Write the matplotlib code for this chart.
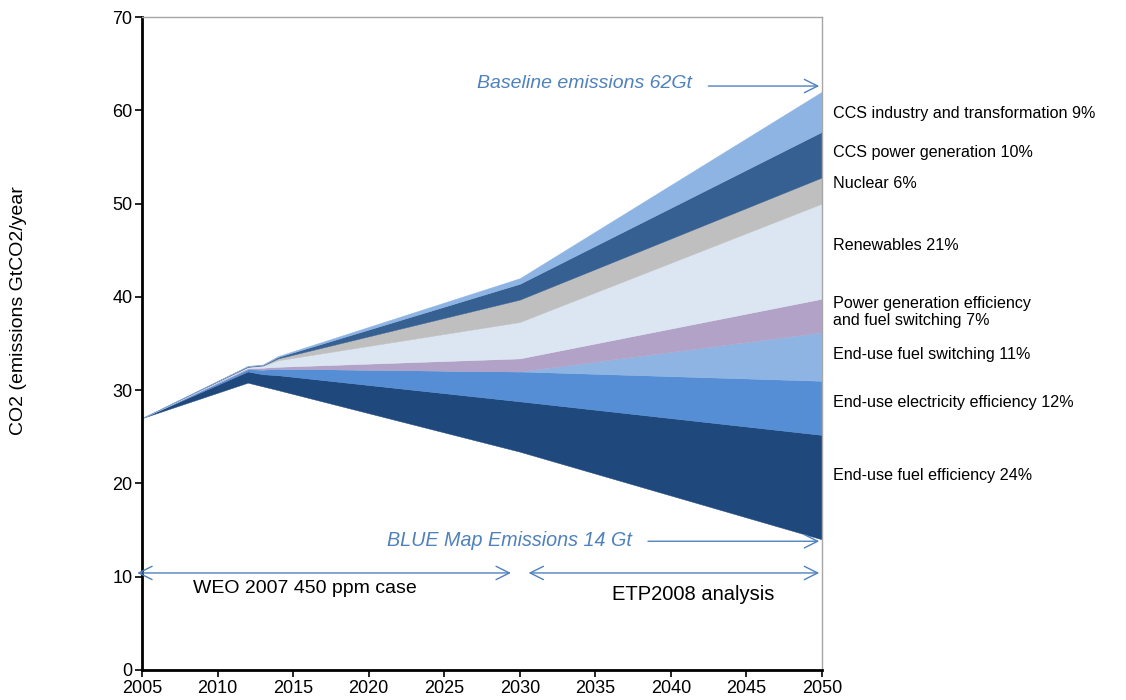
import numpy as np
import matplotlib.pyplot as plt

plt.rcParams['font.family'] = ['Liberation Sans', 'DejaVu Sans']

# years where the wedges change slope
years = [2005, 2012, 2013, 2014, 2030, 2050]

# BLUE Map emissions (bottom of the stack), GtCO2/yr
blue_map = [27.0, 30.8, 30.4, 30.0, 23.4, 14.0]

# emission reduction wedges, bottom to top
wedge_names = [
    'End-use fuel efficiency 24%',
    'End-use electricity efficiency 12%',
    'End-use fuel switching 11%',
    'Power generation efficiency\nand fuel switching 7%',
    'Renewables 21%',
    'Nuclear 6%',
    'CCS power generation 10%',
    'CCS industry and transformation 9%',
]
fuel_eff = [0, 1.2, 1.3, 1.6, 5.4, 11.2]
elec_eff = [0, 0.25, 0.5, 0.7, 3.2, 5.8]
fuel_switch = [0, 0, 0, 0, 0, 5.2]
power_eff = [0, 0.1, 0.2, 0.2, 1.4, 3.6]
renewables = [0, 0.1, 0.2, 0.7, 3.9, 10.2]
nuclear = [0, 0.05, 0.05, 0.2, 2.4, 2.8]
ccs_power = [0, 0.05, 0.05, 0.15, 1.7, 4.9]
ccs_industry = [0, 0.05, 0.05, 0.1, 0.6, 4.3]

wedges = [fuel_eff, elec_eff, fuel_switch, power_eff,
          renewables, nuclear, ccs_power, ccs_industry]
colors = ['#1F497D', '#558ED5', '#8EB4E3', '#B3A2C7',
          '#DCE6F2', '#BFBFBF', '#376092', '#8EB4E3']
# label heights at the right of the chart
label_y = [20.8, 28.7, 33.8, 38.4, 45.5, 52.1, 55.5, 59.7]

arrow_col = '#4F81BD'

fig = plt.figure(figsize=(11.26, 7.0), dpi=100)
ax = fig.add_axes([0.1261, 0.0429, 0.6039, 0.9328])

x = np.array(years)
lower = np.array(blue_map, dtype=float)
for vals, col in zip(wedges, colors):
    upper = lower + np.array(vals)
    ax.fill_between(x, lower, upper, facecolor=col, edgecolor=col, linewidth=0.3)
    lower = upper

ax.set_xlim(2005, 2050)
ax.set_ylim(0, 70)
ax.set_xticks(range(2005, 2051, 5))
ax.set_yticks(range(0, 71, 10))
ax.tick_params(axis='both', direction='out', length=5, width=1.2, labelsize=13,
               colors='black', pad=2)
for s in ['left', 'bottom']:
    ax.spines[s].set_linewidth(2)
    ax.spines[s].set_color('black')
for s in ['top', 'right']:
    ax.spines[s].set_linewidth(1)
    ax.spines[s].set_color('#A6A6A6')

# wedge labels on the right
for name, yv in zip(wedge_names, label_y):
    ax.text(2050.73, yv, name, fontsize=11.6, va='center', ha='left', clip_on=False)

# baseline and BLUE Map annotations
ax.text(2041.4, 62.9, 'Baseline emissions 62Gt', fontsize=14, style='italic',
        color=arrow_col, ha='right', va='center')
ax.annotate('', xy=(2050, 62.6), xytext=(2042.3, 62.6),
            arrowprops=dict(arrowstyle='->', color=arrow_col, lw=1,
                            mutation_scale=24))
ax.text(2037.4, 13.9, 'BLUE Map Emissions 14 Gt', fontsize=14.2, style='italic',
        color=arrow_col, ha='right', va='center')
ax.annotate('', xy=(2050, 13.8), xytext=(2038.3, 13.8),
            arrowprops=dict(arrowstyle='->', color=arrow_col, lw=1,
                            mutation_scale=24))

# period arrows
ax.annotate('', xy=(2004.5, 10.4), xytext=(2029.6, 10.4),
            arrowprops=dict(arrowstyle='<->', color=arrow_col, lw=1,
                            mutation_scale=24), annotation_clip=False)
ax.annotate('', xy=(2030.4, 10.4), xytext=(2050, 10.4),
            arrowprops=dict(arrowstyle='<->', color=arrow_col, lw=1,
                            mutation_scale=24), annotation_clip=False)
ax.text(2015.8, 8.7, 'WEO 2007 450 ppm case', fontsize=14, ha='center', va='center')
ax.text(2041.5, 8.1, 'ETP2008 analysis', fontsize=14.5, ha='center', va='center')

fig.text(0.016, 0.557, 'CO2 (emissions GtCO2/year', rotation=90, fontsize=14,
         ha='center', va='center')

fig.savefig('out.png', dpi=100)
